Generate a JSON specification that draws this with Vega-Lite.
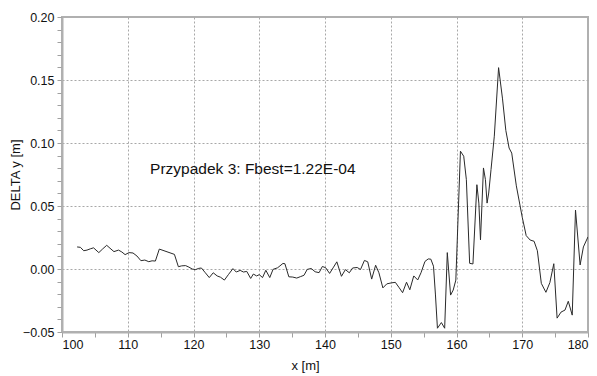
{
  "$schema": "https://vega.github.io/schema/vega-lite/v6.json",
  "width": 526,
  "height": 315,
  "autosize": {"type": "none"},
  "padding": {"left": 62, "top": 17, "right": 9, "bottom": 44},
  "background": "white",
  "config": {
    "font": "Liberation Sans",
    "view": {"stroke": "#b0b0b0", "strokeWidth": 2},
    "axis": {
      "domainColor": "#b0b0b0",
      "domainWidth": 2,
      "tickColor": "#a0a0a0",
      "tickWidth": 1,
      "tickSize": 5,
      "labelColor": "#111111",
      "labelFontSize": 12.5,
      "labelOverlap": false,
      "labelBound": false,
      "titleColor": "#111111",
      "titleFontSize": 13,
      "titleFontWeight": "normal",
      "gridColor": "#a8a8a8",
      "gridDash": [2, 2],
      "gridWidth": 1
    }
  },
  "datasets": {
    "profile": [
      {"x": 102.3, "dy": 0.0175}, {"x": 102.8, "dy": 0.0172}, {"x": 103.3, "dy": 0.0145},
      {"x": 103.8, "dy": 0.0150}, {"x": 104.3, "dy": 0.0160}, {"x": 104.8, "dy": 0.0168},
      {"x": 105.6, "dy": 0.0130}, {"x": 106.2, "dy": 0.0160}, {"x": 106.8, "dy": 0.0188},
      {"x": 107.3, "dy": 0.0165}, {"x": 107.9, "dy": 0.0138}, {"x": 108.6, "dy": 0.0150},
      {"x": 109.1, "dy": 0.0135}, {"x": 109.6, "dy": 0.0114}, {"x": 110.2, "dy": 0.0130},
      {"x": 110.8, "dy": 0.0127}, {"x": 111.4, "dy": 0.0103}, {"x": 112.0, "dy": 0.0066},
      {"x": 112.6, "dy": 0.0071}, {"x": 113.2, "dy": 0.0058}, {"x": 113.7, "dy": 0.0065},
      {"x": 114.2, "dy": 0.0063}, {"x": 114.8, "dy": 0.0158}, {"x": 117.1, "dy": 0.0116},
      {"x": 117.7, "dy": 0.0018}, {"x": 118.2, "dy": 0.0025}, {"x": 118.8, "dy": 0.0027},
      {"x": 119.3, "dy": 0.0015}, {"x": 119.8, "dy": 0.0000}, {"x": 120.3, "dy": -0.0005},
      {"x": 120.8, "dy": 0.0005}, {"x": 121.2, "dy": 0.0008}, {"x": 121.8, "dy": -0.0030},
      {"x": 122.4, "dy": -0.0068}, {"x": 123.0, "dy": -0.0030}, {"x": 123.6, "dy": -0.0055},
      {"x": 124.1, "dy": -0.0065}, {"x": 124.7, "dy": -0.0088}, {"x": 125.3, "dy": -0.0045},
      {"x": 126.0, "dy": 0.0003}, {"x": 126.5, "dy": -0.0024}, {"x": 127.1, "dy": -0.0011},
      {"x": 127.6, "dy": -0.0024}, {"x": 128.1, "dy": -0.0019}, {"x": 128.7, "dy": -0.0075},
      {"x": 129.1, "dy": -0.0040}, {"x": 129.6, "dy": -0.0055}, {"x": 130.0, "dy": -0.0045},
      {"x": 130.5, "dy": -0.0068}, {"x": 131.0, "dy": -0.0010}, {"x": 131.6, "dy": -0.0068},
      {"x": 132.1, "dy": -0.0003}, {"x": 132.8, "dy": 0.0010}, {"x": 133.6, "dy": 0.0044},
      {"x": 133.9, "dy": 0.0042}, {"x": 134.5, "dy": -0.0062}, {"x": 135.1, "dy": -0.0064},
      {"x": 135.7, "dy": -0.0072}, {"x": 136.3, "dy": -0.0060}, {"x": 136.8, "dy": -0.0050},
      {"x": 137.3, "dy": -0.0003}, {"x": 137.9, "dy": 0.0004}, {"x": 138.5, "dy": -0.0022},
      {"x": 139.1, "dy": -0.0029}, {"x": 139.6, "dy": 0.0020}, {"x": 140.1, "dy": 0.0010},
      {"x": 140.7, "dy": -0.0035}, {"x": 141.3, "dy": 0.0015}, {"x": 141.8, "dy": 0.0057},
      {"x": 142.5, "dy": -0.0058}, {"x": 143.1, "dy": -0.0005}, {"x": 143.7, "dy": -0.0030},
      {"x": 144.2, "dy": 0.0008}, {"x": 144.9, "dy": 0.0012}, {"x": 145.4, "dy": -0.0004},
      {"x": 146.0, "dy": 0.0068}, {"x": 146.5, "dy": 0.0057}, {"x": 147.1, "dy": -0.0080},
      {"x": 147.7, "dy": 0.0030}, {"x": 148.2, "dy": -0.0030}, {"x": 148.8, "dy": -0.0150},
      {"x": 149.4, "dy": -0.0118}, {"x": 150.1, "dy": -0.0110}, {"x": 150.7, "dy": -0.0106},
      {"x": 151.3, "dy": -0.0150}, {"x": 151.8, "dy": -0.0188}, {"x": 152.4, "dy": -0.0105},
      {"x": 152.9, "dy": -0.0165}, {"x": 153.5, "dy": -0.0055}, {"x": 154.1, "dy": -0.0087},
      {"x": 154.6, "dy": -0.0030}, {"x": 155.2, "dy": 0.0060}, {"x": 155.7, "dy": 0.0080},
      {"x": 156.1, "dy": 0.0078}, {"x": 156.5, "dy": 0.0022}, {"x": 156.8, "dy": -0.0206},
      {"x": 157.1, "dy": -0.0470}, {"x": 157.7, "dy": -0.0425}, {"x": 158.2, "dy": -0.0470},
      {"x": 158.6, "dy": 0.0130}, {"x": 159.1, "dy": -0.0207}, {"x": 159.5, "dy": -0.0167},
      {"x": 159.9, "dy": -0.0088}, {"x": 160.6, "dy": 0.0935}, {"x": 161.1, "dy": 0.0895},
      {"x": 161.5, "dy": 0.0709}, {"x": 162.0, "dy": 0.0045}, {"x": 162.5, "dy": 0.0040},
      {"x": 163.1, "dy": 0.0669}, {"x": 163.4, "dy": 0.0523}, {"x": 163.65, "dy": 0.0231},
      {"x": 164.1, "dy": 0.0802}, {"x": 164.4, "dy": 0.0709}, {"x": 164.65, "dy": 0.0523},
      {"x": 164.9, "dy": 0.0603}, {"x": 165.25, "dy": 0.0789}, {"x": 165.75, "dy": 0.1054},
      {"x": 166.4, "dy": 0.1598}, {"x": 167.0, "dy": 0.1350}, {"x": 167.5, "dy": 0.1100},
      {"x": 168.0, "dy": 0.0960}, {"x": 168.4, "dy": 0.0920}, {"x": 169.1, "dy": 0.0660},
      {"x": 170.0, "dy": 0.0410}, {"x": 170.6, "dy": 0.0265}, {"x": 171.2, "dy": 0.0230},
      {"x": 171.8, "dy": 0.0220}, {"x": 172.3, "dy": 0.0145}, {"x": 172.9, "dy": -0.0114},
      {"x": 173.6, "dy": -0.0185}, {"x": 174.2, "dy": -0.0108}, {"x": 174.8, "dy": 0.0042},
      {"x": 175.3, "dy": -0.0390}, {"x": 175.9, "dy": -0.0342}, {"x": 176.5, "dy": -0.0326},
      {"x": 177.0, "dy": -0.0256}, {"x": 177.6, "dy": -0.0366}, {"x": 178.1, "dy": 0.0468},
      {"x": 178.8, "dy": 0.0032}, {"x": 179.3, "dy": 0.0175}, {"x": 180.0, "dy": 0.0255}
    ],
    "note": [
      {"x": 113.4, "dy": 0.079, "label": "Przypadek 3: Fbest=1.22E-04"}
    ]
  },
  "layer": [
    {
      "data": {"name": "profile"},
      "mark": {"type": "line", "color": "#2a2a2a", "strokeWidth": 1, "clip": true},
      "encoding": {
        "x": {
          "field": "x",
          "type": "quantitative",
          "scale": {"domain": [100, 180], "nice": false, "zero": false},
          "axis": {
            "title": "x  [m]",
            "titlePadding": 9,
            "titleX": 243,
            "labelPadding": 1,
            "tickCount": 40,
            "values": [100, 105, 110, 115, 120, 125, 130, 135, 140, 145, 150, 155, 160, 165, 170, 175, 180],
            "labelExpr": "datum.value % 10 === 0 ? datum.label : ''",
            "format": "d",
            "grid": true,
            "gridOpacity": {"condition": {"test": "datum.value % 10 === 0 && datum.value > 100 && datum.value < 180", "value": 1}, "value": 0}
          }
        },
        "y": {
          "field": "dy",
          "type": "quantitative",
          "scale": {"domain": [-0.05, 0.2], "nice": false, "zero": false},
          "axis": {
            "title": "DELTA y  [m]",
            "titlePadding": 0,
            "labelPadding": 3,
            "tickCount": 60,
            "values": [-0.05, -0.04, -0.03, -0.02, -0.01, 0, 0.01, 0.02, 0.03, 0.04, 0.05, 0.06, 0.07, 0.08, 0.09, 0.1, 0.11, 0.12, 0.13, 0.14, 0.15, 0.16, 0.17, 0.18, 0.19, 0.2],
            "format": ".2f",
            "labelExpr": "abs(round(datum.value * 100)) % 5 === 0 ? datum.label : ''",
            "grid": true,
            "gridOpacity": {"condition": {"test": "abs(round(datum.value * 100)) % 5 === 0 && datum.value > -0.045 && datum.value < 0.195", "value": 1}, "value": 0}
          }
        }
      }
    },
    {
      "data": {"name": "note"},
      "mark": {"type": "text", "align": "left", "baseline": "middle", "fontSize": 15.5, "color": "#111111", "font": "Liberation Sans"},
      "encoding": {
        "x": {"field": "x", "type": "quantitative"},
        "y": {"field": "dy", "type": "quantitative"},
        "text": {"field": "label"}
      }
    }
  ]
}
